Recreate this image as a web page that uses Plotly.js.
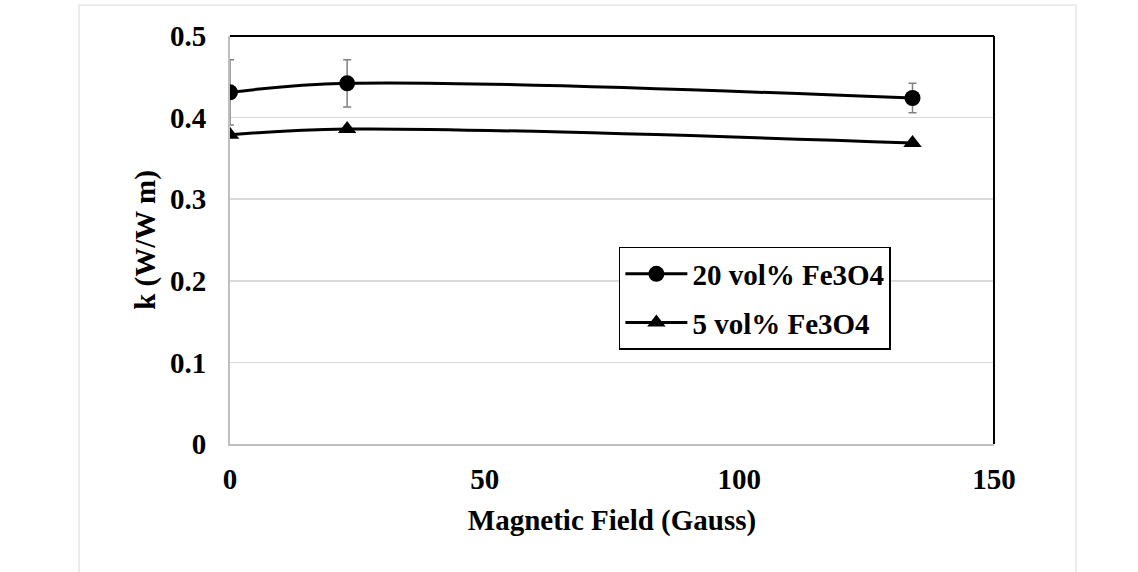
<!DOCTYPE html>
<html>
<head>
<meta charset="utf-8">
<script src="https://cdn.plot.ly/plotly-3.0.1.min.js"></script>
<style>html,body{margin:0;padding:0;background:#fff;}#chart{width:1138px;height:572px;}</style>
</head>
<body>
<div id="chart"></div>
<script>
// Data
const fieldGauss = [0, 23, 134];
const k20 = [0.431, 0.442, 0.424];
const k20Err = [0.040, 0.029, 0.018];
const k5 = [0.379, 0.386, 0.369];
const seriesNames = ["20 vol% Fe3O4", "5 vol% Fe3O4"];
const xTicks = [0, 50, 100, 150];
const yTicks = [0, 0.1, 0.2, 0.3, 0.4, 0.5];
const yTickText = ["0", "0.1", "0.2", "0.3", "0.4", "0.5"];

const FONT = "Liberation Serif, Times New Roman, serif";

const traces = [
  {
    x: fieldGauss, y: k20, name: seriesNames[0], type: "scatter", mode: "lines+markers",
    legendgroup: "a",
    line: {color: "#000", width: 3, shape: "spline", smoothing: 1},
    marker: {symbol: "circle", size: 16, color: "#000"},
    error_y: {type: "data", array: k20Err, visible: true, color: "#808080", thickness: 1.5, width: 4}
  },
  {
    x: fieldGauss, y: k5, name: seriesNames[1], type: "scatter", mode: "lines+markers",
    legendgroup: "b",
    line: {color: "#000", width: 3, shape: "spline", smoothing: 1},
    marker: {symbol: "triangle-up", size: 16, color: "#000"}
  }
];

const layout = {
  width: 1138, height: 572,
  margin: {l: 230, r: 144, t: 36, b: 128},
  paper_bgcolor: "#fff", plot_bgcolor: "#fff",
  font: {family: FONT, color: "#000"},
  showlegend: true,
  legend: {
    x: 0.509, y: 0.483, xanchor: "left", yanchor: "top",
    bgcolor: "#fff", bordercolor: "#000", borderwidth: 1.5,
    font: {family: FONT, size: 29, color: "#000", weight: "bold"},
    tracegroupgap: 8, traceorder: "grouped", itemwidth: 62
  },
  xaxis: {
    range: [0, 150], tickvals: xTicks, ticktext: xTicks.map(String),
    showgrid: false, zeroline: false, showline: true, linecolor: "#bfbfbf", linewidth: 2,
    ticks: "", ticklabelstandoff: 8,
    tickfont: {family: FONT, size: 29, weight: "bold"},
    title: {text: "Magnetic Field (Gauss)", font: {family: FONT, size: 29, weight: "bold"}, standoff: 16}
  },
  yaxis: {
    range: [0, 0.5], tickvals: yTicks, ticktext: yTickText,
    showgrid: true, gridcolor: "#d9d9d9", gridwidth: 1.5,
    zeroline: false, showline: true, linecolor: "#bfbfbf", linewidth: 2,
    ticks: "", ticklabelstandoff: 16,
    tickfont: {family: FONT, size: 29, weight: "bold"},
    title: {text: "k (W/W m)", font: {family: FONT, size: 29, weight: "bold"}, standoff: 6}
  },
  shapes: [
    {type: "line", xref: "paper", yref: "paper", x0: 0, x1: 1, y0: 1, y1: 1, line: {color: "#000", width: 2}},
    {type: "line", xref: "paper", yref: "paper", x0: 1, x1: 1, y0: 0, y1: 1, line: {color: "#000", width: 2}},
    {type: "rect", xref: "paper", yref: "paper", x0: -0.1976, x1: 1.1073, y0: -0.4, y1: 1.076,
     line: {color: "#e6e6e6", width: 1.5}, layer: "below"}
  ]
};

Plotly.newPlot("chart", traces, layout, {displayModeBar: false, staticPlot: true});
</script>
</body>
</html>
